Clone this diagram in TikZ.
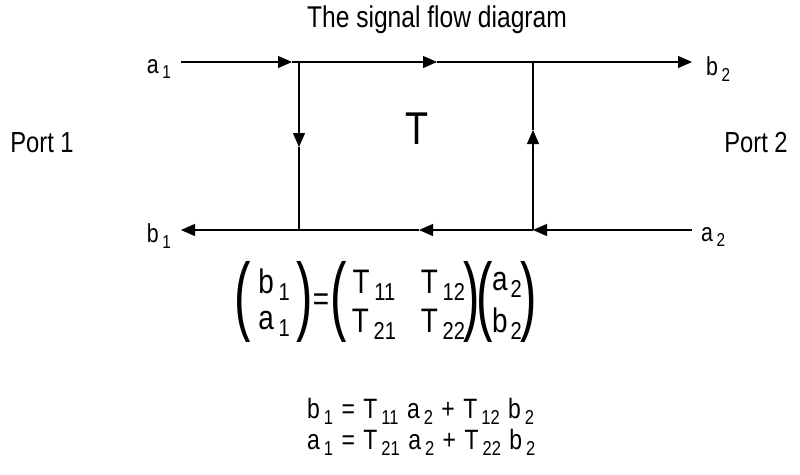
\documentclass[tikz,border=0pt]{standalone}
\usepackage{fontspec}
\setmainfont[FakeStretch=0.82]{Liberation Sans}
\usetikzlibrary{arrows.meta}
\newcommand{\sbs}[1]{\kern0.14em\raisebox{-0.4ex}{\fontsize{0.72\dimexpr\fontdimen6\font\relax}{1}\selectfont #1}}
\newcommand{\sbt}[1]{\kern0.09em\raisebox{-0.4ex}{\fontsize{0.72\dimexpr\fontdimen6\font\relax}{1}\selectfont #1}}
\newcommand{\bigpar}[1]{\makebox[8pt]{\scalebox{1}[1.45]{\fontsize{60}{60}\selectfont #1}}}
\newcommand{\wsp}{\hspace{8.5pt}}
\begin{document}
\begin{tikzpicture}[x=1pt,y=-1pt,
  lbl/.style={font=\fontsize{26}{26}\selectfont, inner sep=0pt},
  port/.style={font=\fontsize{29}{29}\selectfont, inner sep=0pt},
  flow/.style={line width=1.2pt},
  tri/.style={-{Triangle[length=14pt,width=12pt]}},
  mx/.style={font=\fontsize{34}{34}\selectfont, inner sep=0pt},
  eq/.style={font=\fontsize{28}{28}\selectfont, inner sep=0pt}]
\useasboundingbox (0,0) rectangle (800,474);
% title
\node[font=\fontsize{30}{30}\selectfont, inner sep=0pt] (title) at (437,20) {The signal flow diagram};
% corner coordinates
\coordinate (tl) at (181,62);
\coordinate (n1) at (299,62);
\coordinate (n2) at (533,62);
\coordinate (tr) at (692,62);
\coordinate (bl) at (181,230);
\coordinate (m1) at (299,230);
\coordinate (m2) at (533,230);
\coordinate (br) at (692,230);
\coordinate (ar1) at (292,62);
\coordinate (ar2) at (437,62);
\coordinate (ar3) at (299,147);
\coordinate (ar4) at (533,130);
\coordinate (ar5) at (419,230);
% labels
\node[lbl, anchor=east] (a1) at (171,69) {a\sbs{1}};
\node[lbl, anchor=west] (b2) at (706,69) {b\sbs{2}};
\node[lbl, anchor=east] (b1) at (171,236) {b\sbs{1}};
\node[lbl, anchor=west] (a2) at (701,237) {a\sbs{2}};
\node[port] (p1) at (42,143) {Port 1};
\node[port] (p2) at (756,143) {Port 2};
\node[font=\fontsize{46}{46}\selectfont, inner sep=0pt] (T) at (417,129) {T};
% top line
\draw[flow,tri] (tl) -- (ar1);
\draw[flow,tri] (ar1) -- (ar2);
\draw[flow,tri] (ar2) -- (tr);
% verticals
\draw[flow,tri] (n1) -- (ar3);
\draw[flow] (ar3) -- (m1);
\draw[flow,tri] (m2) -- (ar4);
\draw[flow] (ar4) -- (n2);
% bottom line
\draw[flow,tri] (br) -- (m2);
\draw[flow,tri] (m2) -- (ar5);
\draw[flow,tri] (ar5) -- (bl);
% matrix equation
\node[inner sep=0pt] (lp1) at (243,302) {\bigpar{(}};
\node[mx] (mb1) at (274,285) {b\sbs{1}};
\node[mx] (ma1) at (274,324) {a\sbs{1}};
\node[inner sep=0pt] (rp1) at (305,302) {\bigpar{)}};
\node[mx] (meq) at (321,302) {=};
\node[inner sep=0pt] (lp2) at (339,302) {\bigpar{(}};
\node[mx] (t11) at (374,285) {T\sbs{11}};
\node[mx] (t12) at (443,285) {T\sbs{12}};
\node[mx] (t21) at (374,324) {T\sbs{21}};
\node[mx] (t22) at (443,324) {T\sbs{22}};
\node[inner sep=0pt] (rp2) at (472,302) {\bigpar{)}};
\node[inner sep=0pt] (lp3) at (485,302) {\bigpar{(}};
\node[mx] (ma2) at (507,285) {a\sbt{2}};
\node[mx] (mb2) at (507,324) {b\sbt{2}};
\node[inner sep=0pt] (rp3) at (529,302) {\bigpar{)}};
% equations
\node[eq, anchor=west] (e1) at (307,411) {b\sbs{1}\wsp=\wsp T\sbs{11}\wsp a\sbs{2}\wsp+\wsp T\sbs{12}\wsp b\sbs{2}};
\node[eq, anchor=west] (e2) at (307,442) {a\sbs{1}\wsp=\wsp T\sbs{21}\wsp a\sbs{2}\wsp+\wsp T\sbs{22}\wsp b\sbs{2}};
\end{tikzpicture}
\end{document}
